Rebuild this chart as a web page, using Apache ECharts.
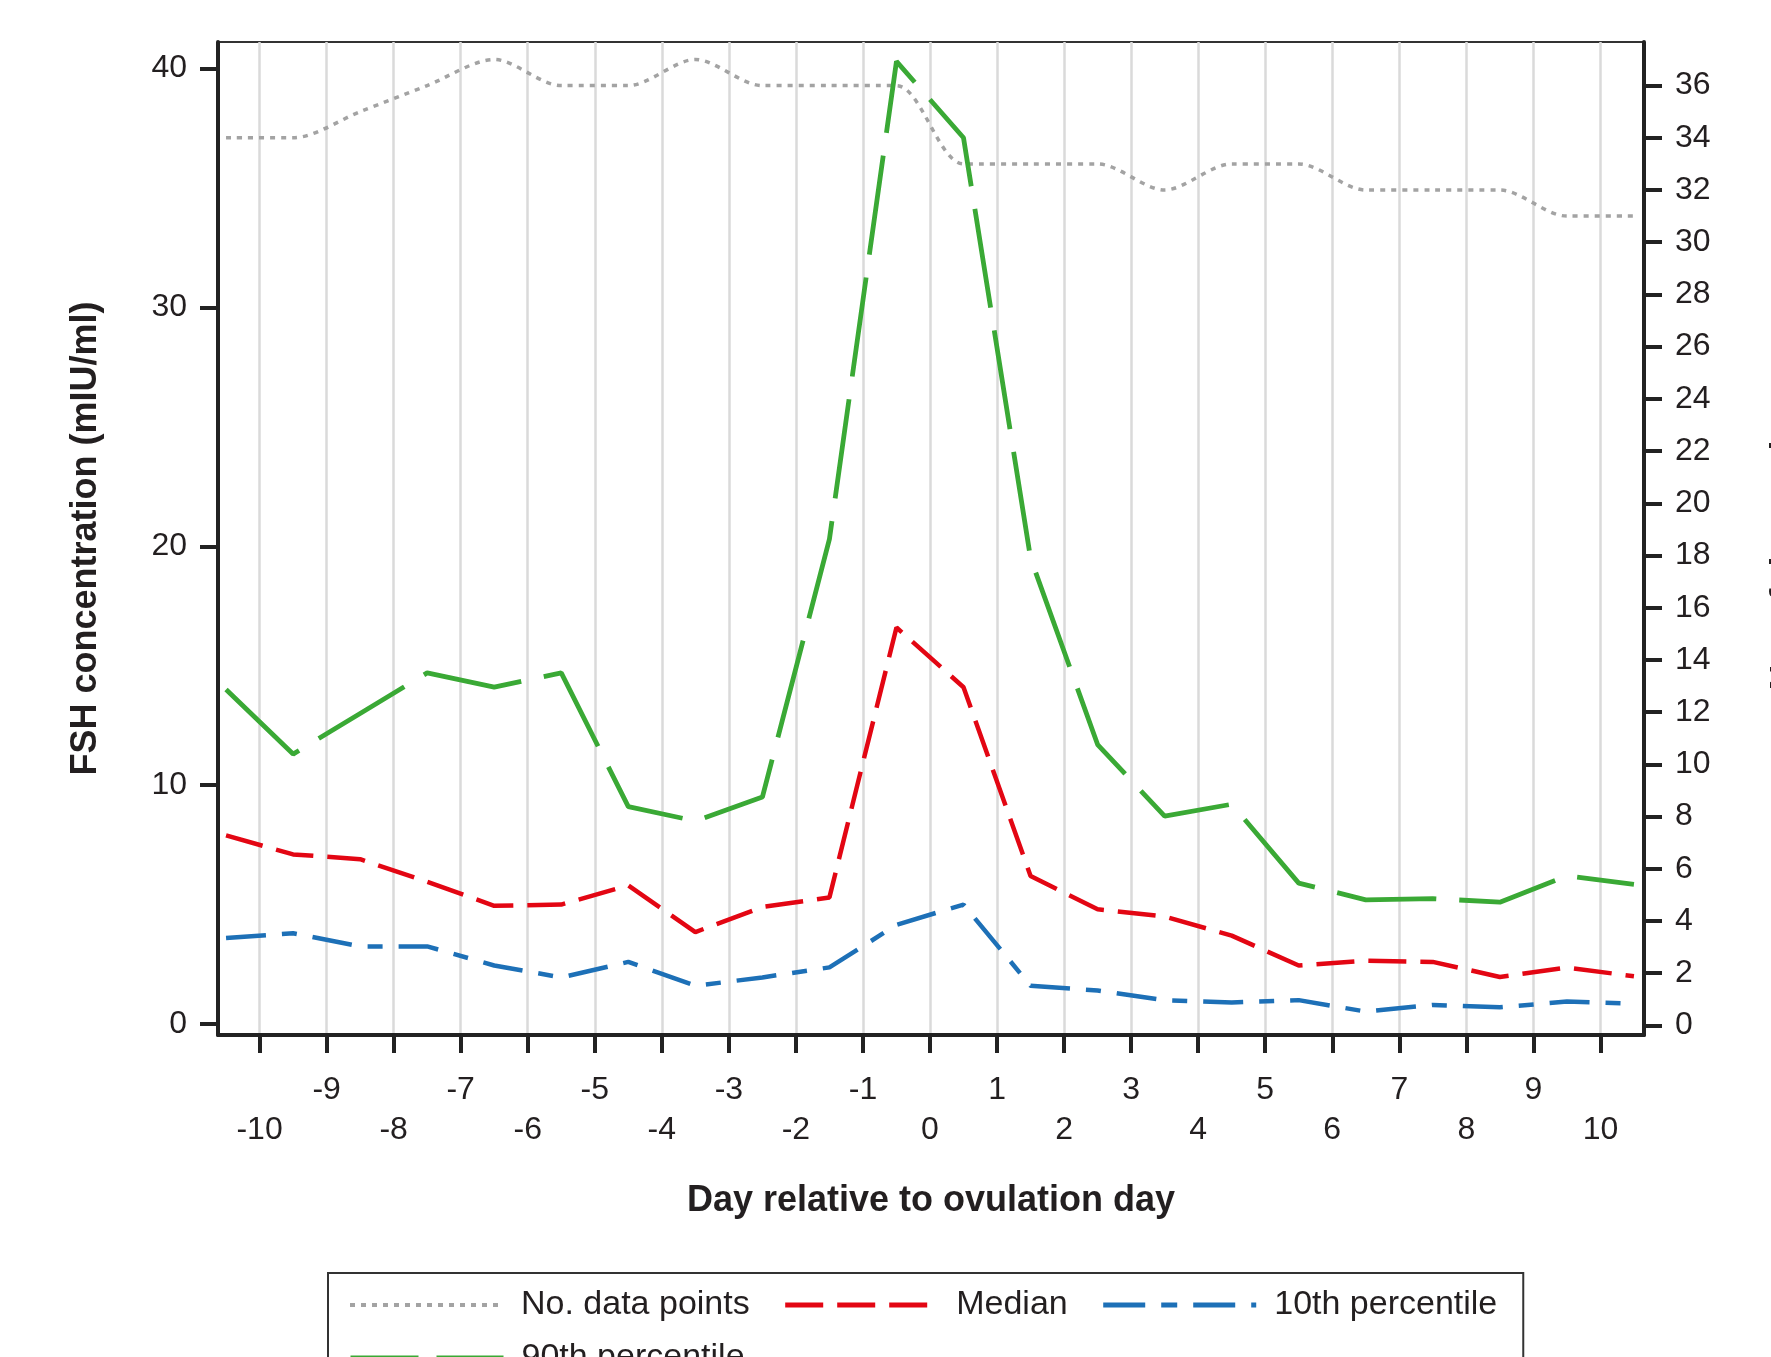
<!DOCTYPE html>
<html>
<head>
<meta charset="utf-8">
<script src="https://cdn.jsdelivr.net/npm/echarts@6/dist/echarts.min.js"></script>
<style>
html,body{margin:0;padding:0;background:#fff;}
#main{width:1771px;height:1357px;}
</style>
</head>
<body>
<div id="main"></div>
<script>
// day relative to ovulation (points sit between the day ticks)
var days = [-10.5, -9.5, -8.5, -7.5, -6.5, -5.5, -4.5, -3.5, -2.5, -1.5, -0.5,
            0.5, 1.5, 2.5, 3.5, 4.5, 5.5, 6.5, 7.5, 8.5, 9.5, 10.5];
// number of data points (right axis)
var nPoints = [34, 34, 35, 36, 37, 36, 36, 37, 36, 36, 36,
               33, 33, 33, 32, 33, 33, 32, 32, 32, 31, 31];
// FSH concentration (mIU/ml)
var median = [7.9, 7.1, 6.9, 5.95, 4.95, 5.0, 5.8, 3.85, 4.9, 5.3, 16.6,
              14.1, 6.2, 4.8, 4.5, 3.7, 2.45, 2.65, 2.6, 1.97, 2.36, 2.0];
var p10 = [3.6, 3.8, 3.25, 3.25, 2.45, 1.95, 2.6, 1.6, 1.95, 2.37, 4.15,
           5.0, 1.6, 1.4, 1.0, 0.9, 1.0, 0.52, 0.8, 0.7, 0.94, 0.85];
var p90 = [14.0, 11.3, 13.0, 14.7, 14.1, 14.7, 9.1, 8.5, 9.5, 20.3, 40.3,
           37.1, 19.5, 11.7, 8.7, 9.2, 5.9, 5.2, 5.25, 5.1, 6.2, 5.85];

var dayTicks = [-10, -9, -8, -7, -6, -5, -4, -3, -2, -1, 0, 1, 2, 3, 4, 5, 6, 7, 8, 9, 10];
var leftTicks = [0, 10, 20, 30, 40];
var rightTicks = [0, 2, 4, 6, 8, 10, 12, 14, 16, 18, 20, 22, 24, 26, 28, 30, 32, 34, 36];

function pairs(ys) {
    var out = [];
    for (var i = 0; i < days.length; i++) out.push([days[i], ys[i]]);
    return out;
}

var font = 'Liberation Sans, Arial, Helvetica, sans-serif';
var ink = '#231f20';

var myChart = echarts.init(document.getElementById('main'));
var option = {
    backgroundColor: '#fff',
    animation: false,
    textStyle: {fontFamily: font, color: ink},
    grid: {
        left: 218, right: 127, top: 42, bottom: 322,
        outerBoundsMode: 'none',
        containLabel: false,
        show: true, borderColor: '#333', borderWidth: 2
    },
    legend: [{
        left: 328, top: 1273,
        padding: [15, 26, 200, 20],
        borderColor: '#333', borderWidth: 2,
        itemWidth: 153, itemHeight: 30, itemGap: 33,
        textStyle: {fontSize: 34, color: ink, fontFamily: font, padding: [0, 0, 0, 13]},
        itemStyle: {opacity: 0},
        lineStyle: {width: 5},
        data: [
            {name: 'No. data points', lineStyle: {type: [5, 6], width: 4}},
            {name: 'Median', lineStyle: {type: [38, 14]}},
            {name: '10th percentile', lineStyle: {type: [42, 16, 16, 16]}}
        ]
    }, {
        left: 348, top: 1341,
        padding: 0,
        itemWidth: 153, itemHeight: 30,
        textStyle: {fontSize: 34, color: ink, fontFamily: font, padding: [0, 0, 0, 13]},
        itemStyle: {opacity: 0},
        lineStyle: {width: 5},
        data: [{name: '90th percentile', lineStyle: {type: [68, 18]}}]
    }],
    xAxis: {
        type: 'value',
        min: -10.62, max: 10.65,
        name: 'Day relative to ovulation day',
        nameLocation: 'middle', nameGap: 148,
        nameTextStyle: {fontSize: 36, fontWeight: 'bold', color: ink, fontFamily: font},
        axisLine: {show: true, onZero: false, lineStyle: {color: '#222', width: 4}},
        axisTick: {show: true, length: 18, lineStyle: {color: '#222', width: 4}, customValues: dayTicks},
        axisLabel: {
            customValues: dayTicks,
            fontSize: 32, color: ink, fontFamily: font, margin: 35, lineHeight: 40,
            formatter: function (v) {
                return (Math.abs(v) % 2 === 1) ? (v + '\n ') : (' \n' + v);
            }
        },
        splitLine: {show: true, lineStyle: {color: '#dadada', width: 2.5}}
    },
    yAxis: [{
        type: 'value',
        min: -0.46, max: 41.11,
        name: 'FSH concentration (mIU/ml)',
        nameLocation: 'middle', nameGap: 114, nameRotate: 90,
        nameTextStyle: {fontSize: 36, fontWeight: 'bold', color: ink, fontFamily: font},
        axisLine: {show: true, onZero: false, lineStyle: {color: '#222', width: 4}},
        axisTick: {show: true, length: 18, lineStyle: {color: '#222', width: 4}, customValues: leftTicks},
        axisLabel: {customValues: leftTicks, fontSize: 32, color: ink, fontFamily: font, margin: 31},
        splitLine: {show: false}
    }, {
        type: 'value',
        position: 'right',
        min: -0.37, max: 37.67,
        name: 'No. of data points',
        nameLocation: 'middle', nameGap: 124, nameRotate: 90,
        nameTextStyle: {fontSize: 36, fontWeight: 'bold', color: ink, fontFamily: font},
        axisLine: {show: true, onZero: false, lineStyle: {color: '#222', width: 4}},
        axisTick: {show: true, length: 18, lineStyle: {color: '#222', width: 4}, customValues: rightTicks},
        axisLabel: {customValues: rightTicks, fontSize: 32, color: ink, fontFamily: font, margin: 31},
        splitLine: {show: false}
    }],
    series: [{
        name: 'No. data points',
        type: 'line',
        yAxisIndex: 1,
        data: pairs(nPoints),
        symbol: 'none',
        smooth: 0.3,
        lineStyle: {color: '#a3a3a3', width: 3.5, type: [5, 6]},
        itemStyle: {color: '#a3a3a3'},
        z: 2
    }, {
        name: 'Median',
        type: 'line',
        data: pairs(median),
        symbol: 'none',
        lineStyle: {color: '#e30613', width: 4.5, type: [38, 14]},
        itemStyle: {color: '#e30613'},
        z: 3
    }, {
        name: '10th percentile',
        type: 'line',
        data: pairs(p10),
        symbol: 'none',
        lineStyle: {color: '#1d70b7', width: 4.5, type: [40, 16, 15, 16]},
        itemStyle: {color: '#1d70b7'},
        z: 3
    }, {
        name: '90th percentile',
        type: 'line',
        data: pairs(p90),
        symbol: 'none',
        lineStyle: {color: '#3aa935', width: 4.8, type: [100, 23]},
        itemStyle: {color: '#3aa935'},
        z: 3
    }]
};

if (option && typeof option === "object") {
    myChart.setOption(option, true);
}
</script>
</body>
</html>
